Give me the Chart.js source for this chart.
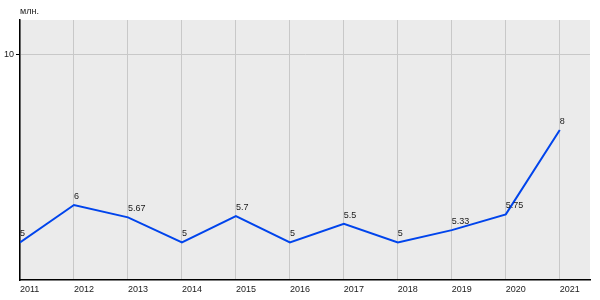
<!DOCTYPE html>
<html>
<head>
<meta charset="utf-8">
<script src="https://cdn.jsdelivr.net/npm/chart.js@4"></script>
<style>
  body { margin: 0; background: #fff; }
</style>
</head>
<body>
<canvas id="chart" width="600" height="300"></canvas>
<script>
const years = [2011, 2012, 2013, 2014, 2015, 2016, 2017, 2018, 2019, 2020, 2021];
const values = [5, 6, 5.67, 5, 5.7, 5, 5.5, 5, 5.33, 5.75, 8];
const valueLabels = ["5", "6", "5.67", "5", "5.7", "5", "5.5", "5", "5.33", "5.75", "8"];
const yTicks = [10];
const unitLabel = "млн.";

const font = "9px 'Liberation Sans', Arial, sans-serif";

const chartExtras = {
  id: "chartExtras",
  beforeDraw(chart) {
    const { ctx, chartArea } = chart;
    ctx.save();
    ctx.fillStyle = "#ebebeb";
    ctx.fillRect(chartArea.left, chartArea.top, chartArea.right - chartArea.left, chartArea.bottom - chartArea.top);
    ctx.restore();
  },
  afterDatasetsDraw(chart) {
    const { ctx, chartArea } = chart;
    const meta = chart.getDatasetMeta(0);
    ctx.save();
    ctx.font = font;
    ctx.fillStyle = "#1a1a1a";
    ctx.textAlign = "left";
    ctx.textBaseline = "alphabetic";
    meta.data.forEach((pt, i) => {
      ctx.fillText(valueLabels[i], pt.x, pt.y - 6);
    });
    ctx.textBaseline = "middle";
    ctx.fillText(unitLabel, chartArea.left, 12);
    ctx.restore();
  }
};

new Chart(document.getElementById("chart").getContext("2d"), {
  type: "line",
  data: {
    datasets: [
      {
        data: years.map((y, i) => ({ x: y, y: values[i] })),
        borderColor: "#0044ec",
        borderWidth: 2,
        pointRadius: 0,
        tension: 0,
        fill: false,
      },
    ],
  },
  options: {
    responsive: false,
    animation: false,
    layout: { padding: { top: 20, right: 10, left: 0, bottom: 0 } },
    plugins: {
      legend: { display: false },
      tooltip: { enabled: false },
    },
    scales: {
      x: {
        type: "linear",
        min: 2011,
        max: 2021.56,
        afterBuildTicks: (scale) => {
          scale.ticks = years.map((v) => ({ value: v }));
        },
        afterFit: (scale) => {
          scale.height = 20;
        },
        grid: { color: "#c8c8c8", drawTicks: false },
        border: { color: "#000", width: 1.5 },
        ticks: {
          align: "start",
          padding: 4,
          maxRotation: 0,
          autoSkip: false,
          color: "#1a1a1a",
          font: { family: "'Liberation Sans', Arial, sans-serif", size: 9 },
          callback: (v) => String(v),
        },
      },
      y: {
        min: 4,
        max: 10.93,
        afterBuildTicks: (scale) => {
          scale.ticks = yTicks.map((v) => ({ value: v }));
        },
        afterFit: (scale) => {
          scale.width = 20;
        },
        grid: { color: "#c8c8c8", tickColor: "#000", tickLength: 4 },
        border: { color: "#000", width: 1.5 },
        ticks: {
          padding: 2,
          color: "#1a1a1a",
          font: { family: "'Liberation Sans', Arial, sans-serif", size: 9 },
        },
      },
    },
  },
  plugins: [chartExtras],
});
</script>
</body>
</html>
